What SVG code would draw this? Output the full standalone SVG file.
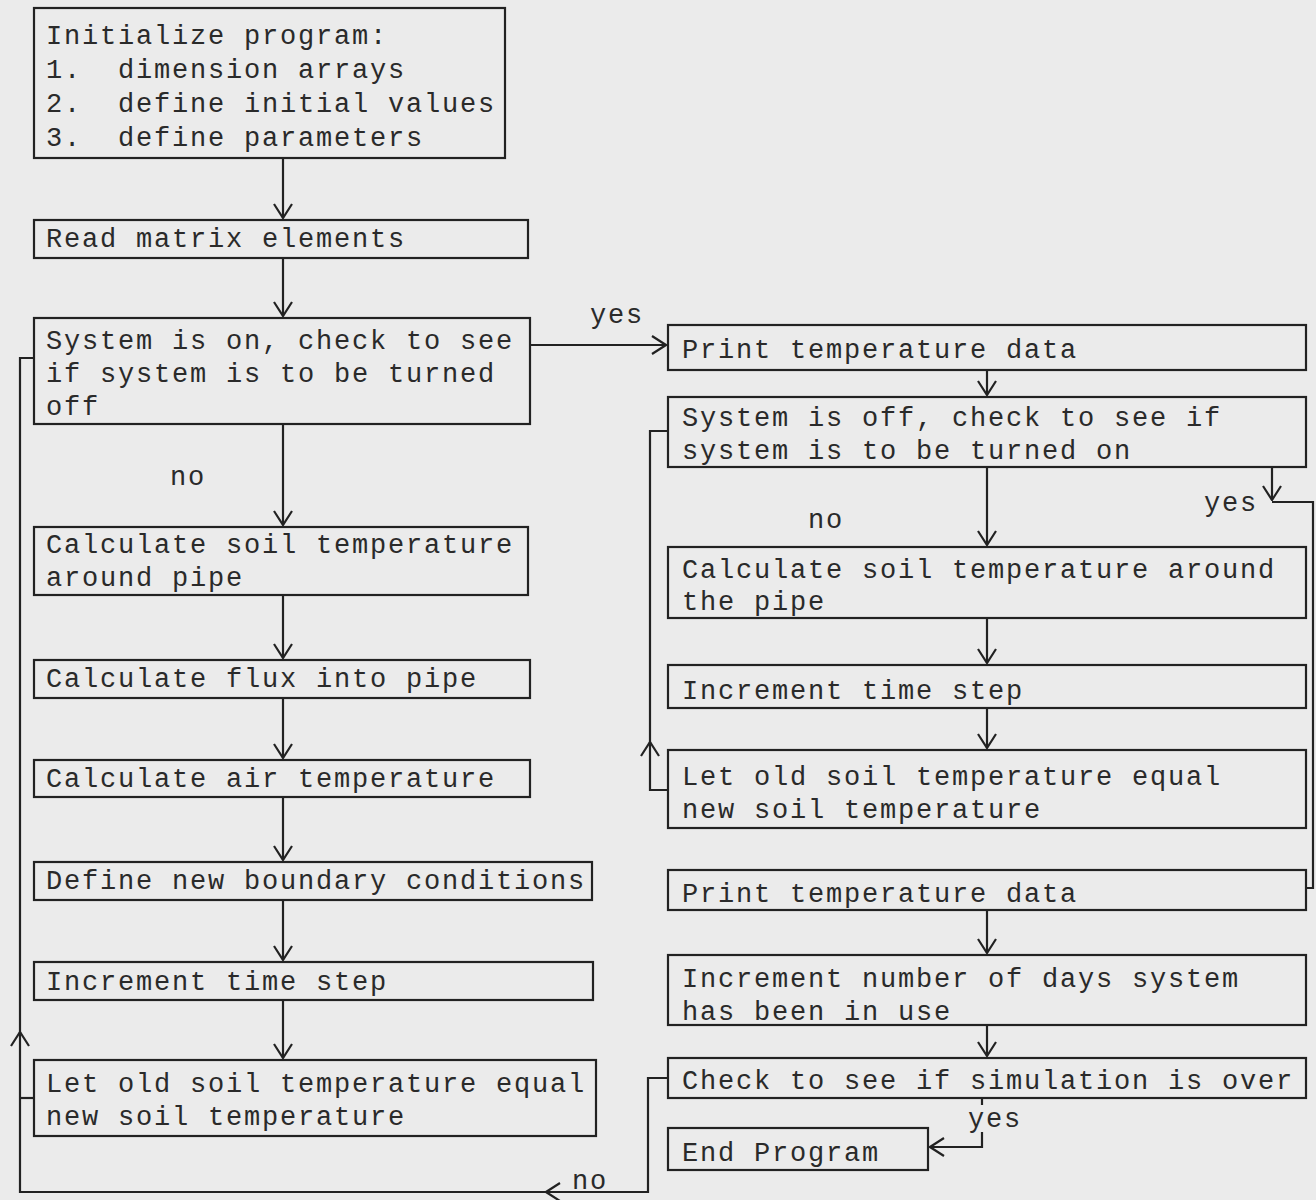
<svg xmlns="http://www.w3.org/2000/svg" width="1316" height="1200" viewBox="0 0 1316 1200">
<style>
.bg{fill:#ebebeb}
.box{fill:none;stroke:#222;stroke-width:2.2}
.t{font-family:"Liberation Mono","DejaVu Sans Mono",monospace;font-size:27px;letter-spacing:1.8px;fill:#2a2a2a;white-space:pre}
.ln{fill:none;stroke:#222;stroke-width:2.2}
</style>
<defs>
<marker id="ah" viewBox="0 0 16 20" refX="15" refY="10" markerWidth="16" markerHeight="20" orient="auto" markerUnits="userSpaceOnUse">
<path d="M1,1 L15,10 L1,19" fill="none" stroke="#222" stroke-width="2.2"/>
</marker>
</defs>
<rect class="bg" x="0" y="0" width="1316" height="1200"/>

<g id="n-init"><rect class="box" x="34" y="8" width="471" height="150"/>
<text class="t" x="46" y="44" xml:space="preserve">Initialize program:</text>
<text class="t" x="46" y="78" xml:space="preserve">1.  dimension arrays</text>
<text class="t" x="46" y="112" xml:space="preserve">2.  define initial values</text>
<text class="t" x="46" y="146" xml:space="preserve">3.  define parameters</text></g>

<g id="n-read"><rect class="box" x="34" y="220" width="494" height="38"/>
<text class="t" x="46" y="247">Read matrix elements</text></g>

<g id="n-syson"><rect class="box" x="34" y="318" width="496" height="106"/>
<text class="t" x="46" y="349">System is on, check to see</text>
<text class="t" x="46" y="382">if system is to be turned</text>
<text class="t" x="46" y="415">off</text></g>

<g id="n-calc1"><rect class="box" x="34" y="527" width="494" height="68"/>
<text class="t" x="46" y="553">Calculate soil temperature</text>
<text class="t" x="46" y="586">around pipe</text></g>

<g id="n-flux"><rect class="box" x="34" y="660" width="496" height="38"/>
<text class="t" x="46" y="687">Calculate flux into pipe</text></g>

<g id="n-air"><rect class="box" x="34" y="760" width="496" height="37"/>
<text class="t" x="46" y="787">Calculate air temperature</text></g>

<g id="n-bound"><rect class="box" x="34" y="862" width="558" height="38"/>
<text class="t" x="46" y="889">Define new boundary conditions</text></g>

<g id="n-inc1"><rect class="box" x="34" y="962" width="559" height="38"/>
<text class="t" x="46" y="990">Increment time step</text></g>

<g id="n-let1"><rect class="box" x="34" y="1060" width="562" height="76"/>
<text class="t" x="46" y="1092">Let old soil temperature equal</text>
<text class="t" x="46" y="1125">new soil temperature</text></g>

<g id="n-print1"><rect class="box" x="668" y="325" width="638" height="45"/>
<text class="t" x="682" y="358">Print temperature data</text></g>

<g id="n-sysoff"><rect class="box" x="668" y="397" width="638" height="70"/>
<text class="t" x="682" y="426">System is off, check to see if</text>
<text class="t" x="682" y="459">system is to be turned on</text></g>

<g id="n-calc2"><rect class="box" x="668" y="547" width="638" height="71"/>
<text class="t" x="682" y="578">Calculate soil temperature around</text>
<text class="t" x="682" y="610">the pipe</text></g>

<g id="n-inc2"><rect class="box" x="668" y="665" width="638" height="43"/>
<text class="t" x="682" y="699">Increment time step</text></g>

<g id="n-let2"><rect class="box" x="668" y="750" width="638" height="78"/>
<text class="t" x="682" y="785">Let old soil temperature equal</text>
<text class="t" x="682" y="818">new soil temperature</text></g>

<g id="n-print2"><rect class="box" x="668" y="870" width="638" height="40"/>
<text class="t" x="682" y="902">Print temperature data</text></g>

<g id="n-days"><rect class="box" x="668" y="955" width="638" height="70"/>
<text class="t" x="682" y="987">Increment number of days system</text>
<text class="t" x="682" y="1020">has been in use</text></g>

<g id="n-check"><rect class="box" x="668" y="1058" width="638" height="40"/>
<text class="t" x="682" y="1089">Check to see if simulation is over</text></g>

<g id="n-end"><rect class="box" x="668" y="1128" width="260" height="42"/>
<text class="t" x="682" y="1161">End Program</text></g>

<g id="connectors">
<line class="ln" x1="283" y1="158" x2="283" y2="218" marker-end="url(#ah)"/>
<line class="ln" x1="283" y1="258" x2="283" y2="316" marker-end="url(#ah)"/>
<line class="ln" x1="283" y1="424" x2="283" y2="525" marker-end="url(#ah)"/>
<line class="ln" x1="283" y1="595" x2="283" y2="658" marker-end="url(#ah)"/>
<line class="ln" x1="283" y1="698" x2="283" y2="758" marker-end="url(#ah)"/>
<line class="ln" x1="283" y1="797" x2="283" y2="860" marker-end="url(#ah)"/>
<line class="ln" x1="283" y1="900" x2="283" y2="960" marker-end="url(#ah)"/>
<line class="ln" x1="283" y1="1000" x2="283" y2="1058" marker-end="url(#ah)"/>
<line class="ln" x1="530" y1="345" x2="666" y2="345" marker-end="url(#ah)"/>
<line class="ln" x1="987" y1="370" x2="987" y2="395" marker-end="url(#ah)"/>
<line class="ln" x1="987" y1="467" x2="987" y2="545" marker-end="url(#ah)"/>
<line class="ln" x1="987" y1="618" x2="987" y2="663" marker-end="url(#ah)"/>
<line class="ln" x1="987" y1="708" x2="987" y2="748" marker-end="url(#ah)"/>
<line class="ln" x1="987" y1="910" x2="987" y2="953" marker-end="url(#ah)"/>
<line class="ln" x1="987" y1="1025" x2="987" y2="1056" marker-end="url(#ah)"/>
<polyline class="ln" points="668,790 650,790 650,742" marker-end="url(#ah)"/>
<polyline class="ln" points="650,745 650,431 668,431"/>
<line class="ln" x1="1272" y1="467" x2="1272" y2="500" marker-end="url(#ah)"/>
<polyline class="ln" points="1272,502 1313,502 1313,888 1306,888"/>
<line class="ln" x1="982" y1="1098" x2="982" y2="1105"/>
<polyline class="ln" points="982,1132 982,1147 930,1147" marker-end="url(#ah)"/>
<polyline class="ln" points="668,1078 648,1078 648,1192 546,1192" marker-end="url(#ah)"/>
<polyline class="ln" points="550,1192 20,1192 20,1032" marker-end="url(#ah)"/>
<polyline class="ln" points="20,1035 20,358 34,358"/>
<line class="ln" x1="34" y1="1098" x2="20" y2="1098"/>
</g>

<g id="labels">
<text class="t" x="590" y="323">yes</text>
<text class="t" x="170" y="485">no</text>
<text class="t" x="808" y="528">no</text>
<text class="t" x="1204" y="511">yes</text>
<text class="t" x="968" y="1127">yes</text>
<text class="t" x="572" y="1189">no</text>
</g>
</svg>
